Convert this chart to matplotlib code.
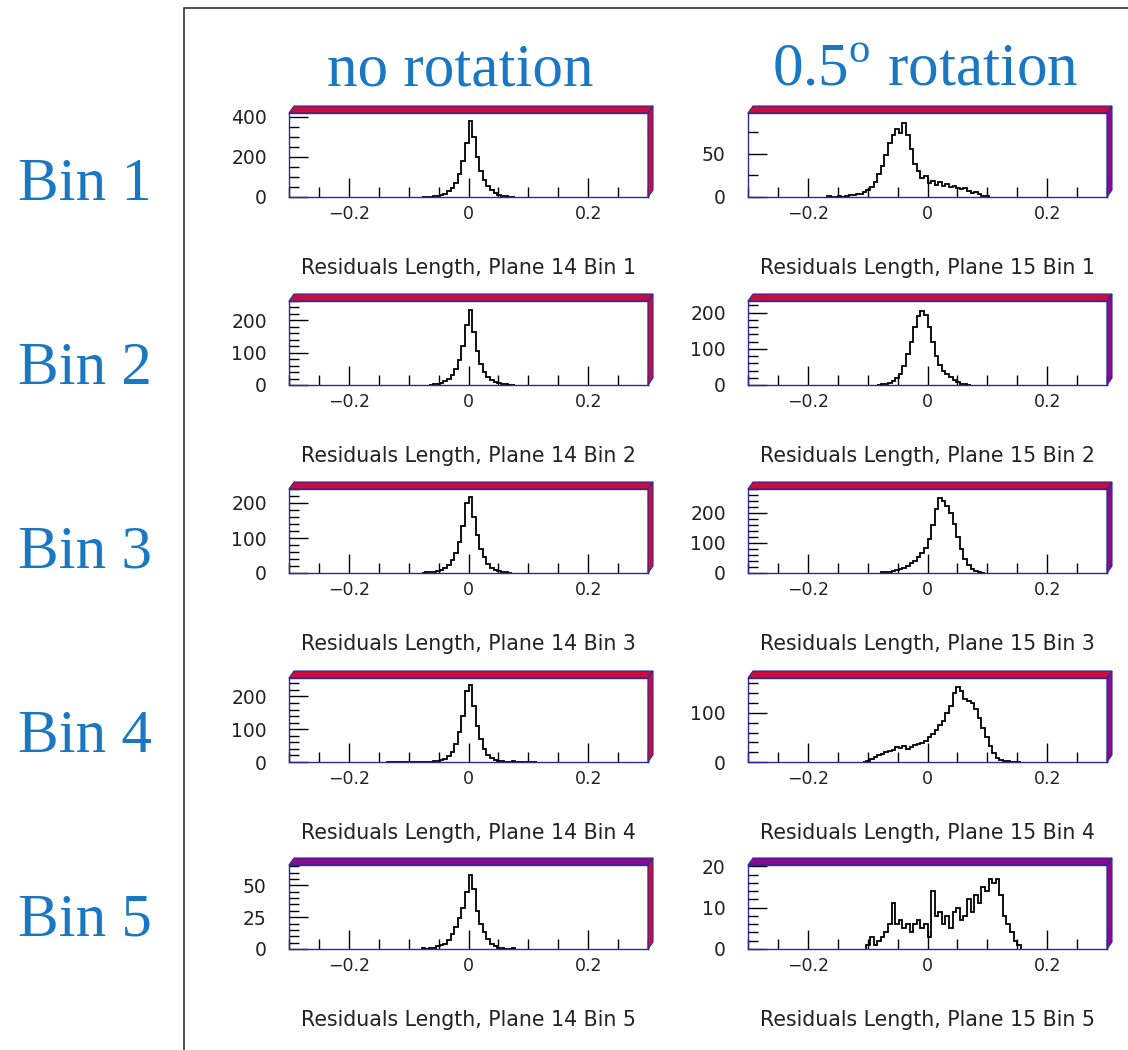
import numpy as np
import matplotlib.pyplot as plt
from matplotlib.patches import Polygon, Rectangle
from matplotlib.ticker import MultipleLocator, FixedLocator, FuncFormatter

plt.rcParams['mathtext.fontset'] = 'custom'
plt.rcParams['mathtext.rm'] = 'Liberation Serif'

# histogram data, bin width 0.006, counts start at the given lower edge
BIN_W = 0.006

p14_bin1_lo = -0.078
p14_bin1 = [1, 1, 2, 3, 6, 10, 17, 28, 45, 72, 115, 180, 270, 380, 300, 200,
            130, 85, 55, 33, 20, 11, 6, 3, 2, 1]
p15_bin1_lo = -0.168
p15_bin1 = [1, 0, 0, 1, 0, 1, 2, 2, 4, 3, 6, 8, 12, 17, 26, 36, 48, 62, 72, 78,
            74, 86, 72, 55, 38, 30, 22, 24, 16, 19, 14, 17, 13, 15, 11, 13, 10,
            9, 10, 7, 5, 6, 3, 1, 1]

p14_bin2_lo = -0.066
p14_bin2 = [1, 2, 4, 7, 11, 18, 30, 48, 78, 120, 185, 232, 165, 105, 65, 40,
            24, 14, 8, 5, 3, 2, 1, 1]
p15_bin2_lo = -0.084
p15_bin2 = [1, 2, 4, 6, 10, 18, 30, 52, 85, 120, 160, 190, 205, 192, 160, 118,
            80, 55, 38, 30, 22, 14, 8, 4, 2, 1]

p14_bin3_lo = -0.078
p14_bin3 = [1, 2, 2, 3, 6, 9, 14, 24, 38, 58, 90, 135, 200, 217, 160, 110, 70,
            45, 26, 14, 8, 5, 4, 2, 1]
p15_bin3_lo = -0.078
p15_bin3 = [2, 3, 5, 7, 10, 14, 18, 24, 32, 40, 52, 66, 85, 115, 160, 215, 250,
            240, 225, 200, 165, 120, 80, 48, 26, 14, 7, 3, 1]

p14_bin4_lo = -0.138
p14_bin4 = [1, 0, 0, 0, 1, 0, 0, 1, 1, 1, 1, 1, 1, 2, 3, 5, 9, 18, 32, 55, 90,
            140, 215, 234, 170, 110, 70, 40, 22, 12, 6, 3, 2, 1, 1, 2, 1, 0, 1,
            0, 0, 1]
p15_bin4_lo = -0.108
p15_bin4 = [1, 3, 6, 10, 14, 17, 20, 22, 25, 30, 28, 33, 27, 30, 34, 36, 38, 42,
            50, 58, 66, 76, 84, 100, 115, 140, 152, 145, 128, 124, 120, 108, 90,
            70, 50, 32, 18, 9, 5, 3, 2, 1, 1, 1]

p14_bin5_lo = -0.078
p14_bin5 = [1, 0, 1, 1, 2, 3, 4, 7, 12, 17, 24, 32, 45, 58, 47, 30, 20, 13, 8,
            4, 2, 1, 1, 0, 0, 1]
p15_bin5_lo = -0.102
p15_bin5 = [1, 3, 1, 2, 3, 4, 6, 11, 6, 7, 5, 6, 4, 6, 7, 5, 6, 3, 14, 8, 9, 6,
            8, 5, 9, 10, 7, 8, 12, 9, 13, 11, 15, 14, 17, 16, 17, 13, 8, 6, 4,
            2, 1]

left_hists = [(p14_bin1_lo, p14_bin1), (p14_bin2_lo, p14_bin2), (p14_bin3_lo, p14_bin3),
              (p14_bin4_lo, p14_bin4), (p14_bin5_lo, p14_bin5)]
right_hists = [(p15_bin1_lo, p15_bin1), (p15_bin2_lo, p15_bin2), (p15_bin3_lo, p15_bin3),
               (p15_bin4_lo, p15_bin4), (p15_bin5_lo, p15_bin5)]

left_ymax = [420, 260, 240, 256, 66]
right_ymax = [97, 232, 280, 171, 20.3]
left_yticks = [(200, 50), (100, 20), (100, 20), (100, 20), (25, 5)]
right_yticks = [(50, 25), (100, 20), (100, 20), (100, 20), (10, 2)]

row_labels = ['Bin 1', 'Bin 2', 'Bin 3', 'Bin 4', 'Bin 5']
col_titles = ['no rotation', r'0.5$^{\mathrm{o}}$ rotation']
xtick_vals = [-0.2, 0, 0.2]
xtick_text = ['\u22120.2', '0', '0.2']

W, H = 1128, 1050
fig = plt.figure(figsize=(W / 100, H / 100), dpi=100)
tf = fig.transFigure

def fx(x):
    return x / W

def fy(y):
    return 1 - y / H

blue = '#1a78c2'
navy = '#2a2a9a'
red = '#cc0c3c'
purple = '#8a0c8e'

# outer frame
fig.patches.append(Rectangle((fx(184), fy(1070)), 1.1, fy(8) - fy(1070), transform=tf,
                             fill=False, edgecolor='#333333', lw=1.2))

col_x0 = [289, 748]
ax_w = 359
row_top = [113, 301, 489, 678, 865]
ax_h = 84
dx, dy = 5, 7

def frame(x0, top, bot, top_col, right_col):
    x1 = x0 + ax_w
    tp = [(x0, top), (x0 + dx, top - dy), (x1 + dx, top - dy), (x1, top)]
    rp = [(x1, top), (x1 + dx, top - dy), (x1 + dx, bot - dy), (x1, bot)]
    for pts, c in ((tp, top_col), (rp, right_col)):
        fig.patches.append(Polygon([(fx(a), fy(b)) for a, b in pts], closed=True,
                                   transform=tf, facecolor=c, edgecolor=navy, lw=0.8))

for c in range(2):
    hists = left_hists if c == 0 else right_hists
    ymaxs = left_ymax if c == 0 else right_ymax
    yt = left_yticks if c == 0 else right_yticks
    for r in range(5):
        x0 = col_x0[c]
        top = row_top[r]
        bot = top + ax_h
        ax = fig.add_axes([fx(x0), fy(bot), ax_w / W, ax_h / H])
        lo, counts = hists[r]
        edges = lo + BIN_W * np.arange(len(counts) + 1)
        ax.stairs(counts, edges, color='black', lw=1.3)
        ax.set_xlim(-0.3, 0.3)
        ax.set_ylim(0, ymaxs[r])
        ax.xaxis.set_major_locator(FixedLocator(xtick_vals))
        ax.set_xticklabels(xtick_text)
        ax.xaxis.set_minor_locator(MultipleLocator(0.05))
        ax.yaxis.set_major_locator(MultipleLocator(yt[r][0]))
        ax.yaxis.set_minor_locator(MultipleLocator(yt[r][1]))
        ax.yaxis.set_major_formatter(FuncFormatter(lambda v, p: '%d' % round(v)))
        for s in ax.spines.values():
            s.set_color(navy)
            s.set_linewidth(1.0)
        ax.tick_params(which='both', direction='in', top=False, right=False,
                       color='black', width=1.0, labelsize=12.5, labelcolor='#222222')
        ax.tick_params(axis='y', labelsize=13.5)
        ax.tick_params(which='major', length=14)
        ax.tick_params(which='minor', length=7)
        ax.tick_params(axis='x', pad=6)
        ax.tick_params(axis='y', pad=16)
        if r < 4:
            frame(x0, top, bot, red, red if c == 0 else purple)
        else:
            frame(x0, top, bot, purple, red if c == 0 else purple)
        fig.text(fx(x0 + ax_w / 2), fy(bot + 71),
                 'Residuals Length, Plane %d Bin %d' % (14 + c, r + 1),
                 ha='center', va='center', fontsize=14.8, color='#222222')

label_base = [200, 384, 568, 752, 936]
for r in range(5):
    fig.text(fx(85), fy(label_base[r]), row_labels[r], ha='center', va='baseline',
             fontsize=44, family='Liberation Serif', color=blue)

title_cx = [460, 925]
for c in range(2):
    fig.text(fx(title_cx[c]), fy(86), col_titles[c], ha='center', va='baseline',
             fontsize=44, family='Liberation Serif', color=blue)

fig.savefig('out.png', dpi=100)
